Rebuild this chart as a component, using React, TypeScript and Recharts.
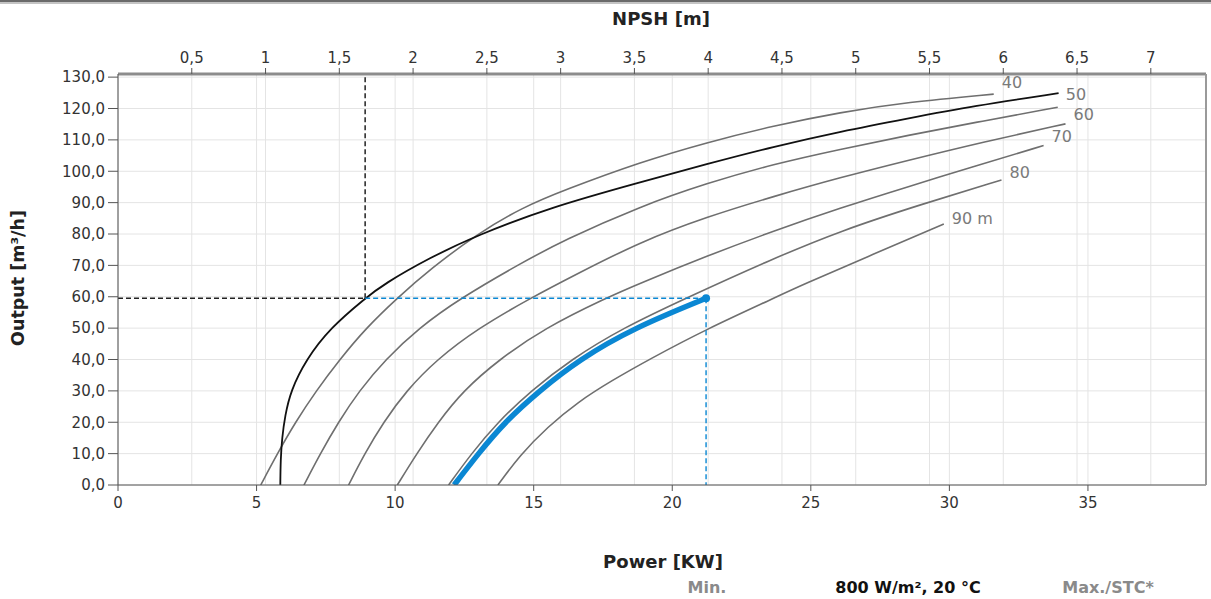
import React from 'react';
import { ComposedChart, Line, XAxis, YAxis, CartesianGrid } from 'recharts';

// axis ticks
const powerTicks = [0, 5, 10, 15, 20, 25, 30, 35];
const npshTicks = [0.5, 1, 1.5, 2, 2.5, 3, 3.5, 4, 4.5, 5, 5.5, 6, 6.5, 7];
const outputTicks = [0, 10, 20, 30, 40, 50, 60, 70, 80, 90, 100, 110, 120, 130];

const POWER_MAX = 39.26;
const NPSH_MAX = 7.374;
const OUTPUT_MAX = 131;

// head curves: [power kW, output m³/h]
const head40: [number, number][] = [
  [5.15, 0], [5.75, 10], [6.4, 20], [7.15, 30], [8.0, 40], [8.95, 50], [10.06, 59.5],
  [11.3, 69], [12.95, 80], [14.6, 88.5], [16.1, 94], [18.84, 102.9], [21.25, 109.2],
  [23.66, 114.5], [26.06, 118.8], [28.47, 122], [31.6, 124.6],
];
const head50: [number, number][] = [
  [6.71, 0], [7.3, 10], [7.95, 20], [8.7, 30], [9.65, 40], [10.85, 50], [12.35, 59.5],
  [14.5, 70.5], [16.08, 78], [18.84, 88.8], [21.25, 96.2], [23.66, 102.3], [26.06, 107],
  [28.47, 111.4], [31.2, 116], [33.91, 120.4],
];
const head60: [number, number][] = [
  [8.32, 0], [8.9, 10], [9.58, 20], [10.4, 30], [11.5, 40], [13.0, 50], [14.87, 59.5],
  [16.5, 67], [18.84, 77.5], [21.25, 85.5], [23.66, 92], [26.06, 98], [28.47, 103.4],
  [31.3, 109.5], [34.19, 115.1],
];
const head70: [number, number][] = [
  [10.08, 0], [10.78, 10], [11.55, 20], [12.45, 30], [13.75, 40], [15.4, 50], [17.58, 59.5],
  [18.84, 64.3], [21.25, 73], [23.66, 81], [26.06, 88.3], [28.47, 95], [31, 101.8], [33.4, 108.2],
];
const head80: [number, number][] = [
  [11.93, 0], [12.75, 10], [13.7, 20], [14.9, 30], [16.35, 40], [18.2, 50], [20.6, 60],
  [23.6, 72], [26.06, 81], [29, 89.5], [31.88, 97.2],
];
const head90: [number, number][] = [
  [13.71, 0], [14.5, 9.5], [15.5, 18.5], [16.6, 26.5], [17.8, 33.2], [19.2, 40.2], [21.22, 49.6],
  [23.66, 59.5], [24.62, 63.5], [27.27, 73.6], [29.8, 83.2],
];
const headLabels = ['40', '50', '60', '70', '80', '90 m'];

// operating curve at 800 W/m², 20 °C
const workingCurve: [number, number][] = [
  [12.13, 0], [13.0, 10], [13.95, 20], [15.2, 30], [16.65, 40], [18.6, 50], [21.22, 59.5],
];

// NPSH curve: [NPSH m, output m³/h]
const npshCurve: [number, number][] = [
  [1.1, 0], [1.102, 8], [1.112, 15], [1.132, 22], [1.17, 30], [1.275, 40], [1.437, 50],
  [1.675, 59.5], [1.8, 64], [2.115, 72.5], [2.43, 79.5], [2.93, 88.5], [3.54, 96.5],
  [3.99, 102.3], [4.44, 107.8], [4.9, 112.7], [5.35, 116.8], [5.8, 120.8], [6.375, 124.9],
];

const dutyOutput = 59.5;
const dutyPower = 21.22;
const dutyNpsh = 1.675;

const GRAY = '#6f6f6f';
const BLUE = '#0a87d3';
const FONT = '"DejaVu Sans", sans-serif';
// label baseline nudge per head curve
const labelDy = [-6, -7, -4, -4, -2, 0];

const toPower = (pts: [number, number][]) => pts.map(([kw, q]) => ({ kw, q }));
const toNpsh = (pts: [number, number][]) => pts.map(([npsh, q]) => ({ npsh, q }));

const heads = [head40, head50, head60, head70, head80, head90];

const endLabel = (text: string, count: number, dy: number) => (props: any) => {
  if (props.index !== count - 1) return <g />;
  return (
    <text x={props.x + 8} y={props.y + dy} fontSize={16} fill="#7a7a7a" fontFamily={FONT}>
      {text}
    </text>
  );
};

const comma = (v: number) => String(v).replace('.', ',');

const App: React.FC = () => {
  const blueStartKw = (dutyNpsh * POWER_MAX) / NPSH_MAX;
  const last = workingCurve.length - 1;

  return (
    <div style={{ position: 'absolute', left: 0, top: 0, width: 1211, height: 599, background: '#fff', fontFamily: FONT }}>
      <div style={{ position: 'absolute', left: 0, top: 0, width: 1211, height: 2, background: '#6a6a6a' }} />
      <div style={{ position: 'absolute', left: 0, top: 2, width: 1211, height: 2, background: '#c4c4c4' }} />

      <ComposedChart width={1211} height={599} margin={{ top: 44, right: 0, bottom: 84, left: 58 }}>
        <CartesianGrid xAxisId="power" yAxisId="q" stroke="#e4e4e4" />
        <CartesianGrid xAxisId="npsh" yAxisId="q" stroke="#e4e4e4" horizontal={false} />
        <XAxis
          xAxisId="power"
          dataKey="kw"
          type="number"
          domain={[0, POWER_MAX]}
          ticks={powerTicks}
          allowDataOverflow
          height={30}
          tickSize={6}
          tickMargin={6}
          axisLine={{ stroke: '#555' }}
          tickLine={{ stroke: '#555' }}
          tick={{ fontSize: 15, fill: '#333', fontFamily: FONT }}
        />
        <XAxis
          xAxisId="npsh"
          dataKey="npsh"
          orientation="top"
          type="number"
          domain={[0, NPSH_MAX]}
          ticks={npshTicks}
          allowDataOverflow
          height={30}
          tickSize={6}
          tickMargin={5}
          tickFormatter={comma}
          axisLine={{ stroke: '#8c8c8c', strokeWidth: 3 }}
          tickLine={{ stroke: '#555' }}
          tick={{ fontSize: 15, fill: '#333', fontFamily: FONT }}
        />
        <YAxis
          yAxisId="q"
          type="number"
          domain={[0, OUTPUT_MAX]}
          ticks={outputTicks}
          allowDataOverflow
          width={60}
          tickSize={10}
          tickMargin={3}
          tickFormatter={(v: number) => v.toFixed(1).replace('.', ',')}
          axisLine={{ stroke: '#555' }}
          tickLine={{ stroke: '#555' }}
          tick={{ fontSize: 15, fill: '#333', fontFamily: FONT }}
        />
        <YAxis
          yAxisId="frame"
          orientation="right"
          width={5}
          domain={[0, 1]}
          tick={false}
          tickLine={false}
          axisLine={{ stroke: '#9a9a9a', strokeWidth: 2 }}
        />

        {heads.map((pts, i) => (
          <Line
            key={headLabels[i]}
            xAxisId="power"
            yAxisId="q"
            data={toPower(pts)}
            dataKey="q"
            type="basis"
            stroke={GRAY}
            strokeWidth={1.6}
            dot={false}
            label={endLabel(headLabels[i], pts.length, labelDy[i])}
            isAnimationActive={false}
          />
        ))}

        <Line
          xAxisId="npsh"
          yAxisId="q"
          data={toNpsh(npshCurve)}
          dataKey="q"
          type="basis"
          stroke="#111"
          strokeWidth={1.8}
          dot={false}
          isAnimationActive={false}
        />

        {/* duty point guides */}
        <Line
          xAxisId="npsh"
          yAxisId="q"
          data={[{ npsh: 0, q: dutyOutput }, { npsh: dutyNpsh, q: dutyOutput }]}
          dataKey="q"
          stroke="#222"
          strokeWidth={1.5}
          strokeDasharray="5 3"
          dot={false}
          isAnimationActive={false}
        />
        <Line
          xAxisId="npsh"
          yAxisId="q"
          data={[{ npsh: dutyNpsh, q: dutyOutput }, { npsh: dutyNpsh, q: OUTPUT_MAX }]}
          dataKey="q"
          stroke="#222"
          strokeWidth={1.5}
          strokeDasharray="5 3"
          dot={false}
          isAnimationActive={false}
        />
        <Line
          xAxisId="power"
          yAxisId="q"
          data={[{ kw: blueStartKw, q: dutyOutput }, { kw: dutyPower, q: dutyOutput }]}
          dataKey="q"
          stroke={BLUE}
          strokeWidth={1.4}
          strokeDasharray="5 3"
          dot={false}
          isAnimationActive={false}
        />
        <Line
          xAxisId="power"
          yAxisId="q"
          data={[{ kw: dutyPower, q: dutyOutput }, { kw: dutyPower, q: 0 }]}
          dataKey="q"
          stroke={BLUE}
          strokeWidth={1.4}
          strokeDasharray="5 3"
          dot={false}
          isAnimationActive={false}
        />

        <Line
          xAxisId="power"
          yAxisId="q"
          data={toPower(workingCurve)}
          dataKey="q"
          type="basis"
          stroke={BLUE}
          strokeWidth={5.5}
          dot={(p: any) =>
            p.index === last ? (
              <circle key="end" cx={p.cx} cy={p.cy} r={4} fill={BLUE} />
            ) : (
              <g key={p.index} />
            )
          }
          isAnimationActive={false}
        />
      </ComposedChart>

      <div style={{ position: 'absolute', left: 661, top: 18, transform: 'translate(-50%, -50%)', fontSize: 18, fontWeight: 'bold', color: '#222', whiteSpace: 'nowrap' }}>
        NPSH [m]
      </div>
      <div style={{ position: 'absolute', left: 18, top: 278, transform: 'translate(-50%, -50%) rotate(-90deg)', fontSize: 17.5, fontWeight: 'bold', color: '#222', whiteSpace: 'nowrap' }}>
        Output [m³/h]
      </div>
      <div style={{ position: 'absolute', left: 663, top: 561, transform: 'translate(-50%, -50%)', fontSize: 18, fontWeight: 'bold', color: '#222', whiteSpace: 'nowrap' }}>
        Power [KW]
      </div>
      <div style={{ position: 'absolute', left: 707, top: 587, transform: 'translate(-50%, -50%)', fontSize: 16, fontWeight: 'bold', color: '#8a8a8a', whiteSpace: 'nowrap' }}>
        Min.
      </div>
      <div style={{ position: 'absolute', left: 908, top: 587, transform: 'translate(-50%, -50%)', fontSize: 16, fontWeight: 'bold', color: '#111', whiteSpace: 'nowrap' }}>
        800 W/m², 20 °C
      </div>
      <div style={{ position: 'absolute', left: 1108, top: 587, transform: 'translate(-50%, -50%)', fontSize: 16, fontWeight: 'bold', color: '#8a8a8a', whiteSpace: 'nowrap' }}>
        Max./STC*
      </div>
    </div>
  );
};

export default App;
